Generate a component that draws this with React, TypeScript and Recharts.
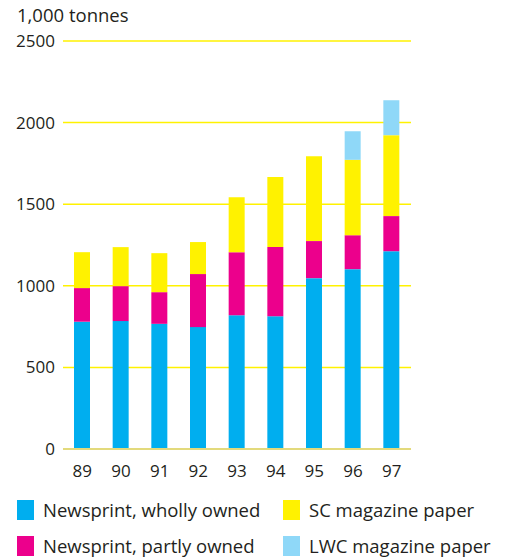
import React from "react";
import {
  Bar,
  BarChart,
  CartesianGrid,
  Legend,
  XAxis,
  YAxis,
} from "recharts";

const years = ["89", "90", "91", "92", "93", "94", "95", "96", "97"];
const whollyOwned = [780, 784, 767, 747, 820, 814, 1047, 1102, 1212];
const partlyOwned = [206, 214, 194, 325, 386, 423, 227, 208, 215];
const scMagazine = [220, 239, 239, 196, 337, 429, 520, 462, 496];
const lwcMagazine = [0, 0, 0, 0, 0, 0, 0, 175, 214];
const yTicks = [0, 500, 1000, 1500, 2000, 2500];

const series = [
  { key: "wholly", name: "Newsprint, wholly owned", color: "#00aeef" },
  { key: "partly", name: "Newsprint, partly owned", color: "#ec008c" },
  { key: "sc", name: "SC magazine paper", color: "#fff200" },
  { key: "lwc", name: "LWC magazine paper", color: "#8fd8f8" },
];

const data = years.map((year, i) => ({
  year,
  wholly: whollyOwned[i],
  partly: partlyOwned[i],
  sc: scMagazine[i],
  lwc: lwcMagazine[i],
}));

const font = "'Open Sans', sans-serif";

function LegendBox() {
  // two columns: wholly / partly on the left, sc / lwc on the right
  const cols = [
    [series[0], series[1]],
    [series[2], series[3]],
  ];
  return (
    <div style={{ display: "flex", fontFamily: font, fontSize: 18.5, color: "#231f20" }}>
      {cols.map((col, ci) => (
        <div key={ci} style={{ width: ci === 0 ? 266 : 220 }}>
          {col.map((s) => (
            <div
              key={s.key}
              style={{ display: "flex", alignItems: "center", height: 20, marginBottom: 16 }}
            >
              <span
                style={{
                  display: "inline-block",
                  width: 17,
                  height: 20,
                  background: s.color,
                  marginRight: 9,
                }}
              />
              <span style={{ lineHeight: "20px" }}>{s.name}</span>
            </div>
          ))}
        </div>
      ))}
    </div>
  );
}

export default function App() {
  return (
    <div style={{ position: "absolute", left: 0, top: 0, background: "#fff" }}>
      <BarChart
        width={508}
        height={560}
        data={data}
        margin={{ top: 41, right: 97, bottom: 81, left: 8 }}
      >
        <text x={17} y={22} fontFamily={font} fontSize={18.5} fill="#231f20">
          1,000 tonnes
        </text>
        <CartesianGrid vertical={false} stroke="#fff200" strokeWidth={1.5} />
        <XAxis
          dataKey="year"
          height={30}
          tickSize={0}
          tickMargin={16}
          axisLine={{ stroke: "#e3da7c", strokeWidth: 2 }}
          tick={{ fontFamily: font, fontSize: 17, fill: "#231f20" }}
        />
        <YAxis
          width={55}
          domain={[0, 2500]}
          ticks={yTicks}
          tickSize={0}
          tickMargin={8}
          axisLine={false}
          tickLine={false}
          tick={{ fontFamily: font, fontSize: 17, fill: "#231f20" }}
        />
        {series.map((s) => (
          <Bar
            key={s.key}
            dataKey={s.key}
            name={s.name}
            stackId="a"
            fill={s.color}
            barSize={16}
            isAnimationActive={false}
          />
        ))}
        <Legend
          layout="vertical"
          align="center"
          verticalAlign="middle"
          content={() => <LegendBox />}
          wrapperStyle={{ position: "absolute", left: 17, top: 500, width: 491 }}
        />
      </BarChart>
    </div>
  );
}
